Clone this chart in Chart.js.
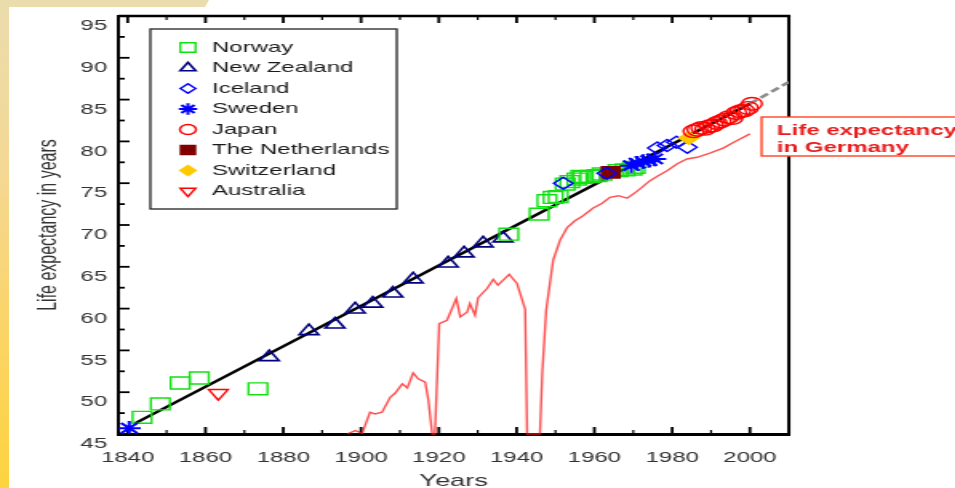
<!DOCTYPE html>
<html lang="en">
<head>
  <meta charset="UTF-8" />
  <title>Record life expectancy</title>
  <script src="https://cdn.jsdelivr.net/npm/chart.js"></script>
  <style>
    html, body {
      margin: 0;
      padding: 0;
      width: 955px;
      height: 488px;
      overflow: hidden;
      background: #fff;
    }

    #topBand {
      position: absolute;
      left: 0;
      top: 0;
      width: 209px;
      height: 7px;
      background: #ebdcad;
      clip-path: polygon(0 0, 209px 0, 205px 7px, 0 7px);
    }

    #leftStrip {
      position: absolute;
      left: 0;
      top: 0;
      width: 9px;
      height: 488px;
      background: linear-gradient(to bottom, #ebdcad 0%, #f4d894 35%, #fbd464 70%, #fdd33e 100%);
    }

    /* the original picture was stretched sideways, so draw narrow and stretch */
    #wrap {
      position: absolute;
      left: 0;
      top: 0;
      width: 597px;
      height: 488px;
      transform: scaleX(1.6);
      transform-origin: 0 0;
    }
  </style>
</head>
<body>
  <div id="topBand"></div>
  <div id="leftStrip"></div>
  <div id="wrap">
    <canvas id="lifeChart" width="597" height="488" style="width:597px;height:488px"></canvas>
  </div>

  <script>
    // ---- data ----
    const yearTicks = [1840, 1860, 1880, 1900, 1920, 1940, 1960, 1980, 2000];
    const lifeTicks = [45, 50, 55, 60, 65, 70, 75, 80, 85, 90, 95];

    const norwayYears = [1843.7, 1848.4, 1853.5, 1858.4, 1873.5, 1938, 1945.8, 1947.8, 1949.4, 1950.7, 1952.5, 1953.7, 1955.5, 1956.5, 1957.1, 1958.9, 1960.7, 1962, 1966.1, 1967.9, 1969.7, 1970.5];
    const norwayLife = [47.0, 48.6, 51.1, 51.7, 50.4, 68.9, 71.3, 72.9, 73.3, 73.4, 74.9, 75.2, 75.5, 75.8, 75.7, 75.8, 75.9, 76.1, 76.5, 76.6, 76.7, 76.9];

    const nzYears = [1876.4, 1886.6, 1893.3, 1898.5, 1903, 1908.2, 1913.4, 1922.4, 1926.5, 1931.4, 1936.5];
    const nzLife = [54.2, 57.3, 58.1, 59.9, 60.6, 61.8, 63.5, 65.4, 66.6, 67.8, 68.4];

    const icelandYears = [1952, 1963.2, 1976.2, 1978.7, 1981.1, 1983.9];
    const icelandLife = [75.0, 76.2, 79.2, 79.5, 79.9, 79.3];

    const swedenYears = [1840.4, 1969.5, 1971, 1972.5, 1974, 1975.5];
    const swedenLife = [45.7, 77.1, 77.4, 77.6, 77.7, 77.9];

    const japanYears = [1985.5, 1986.5, 1987.5, 1988.5, 1989.5, 1990.5, 1991.5, 1992.5, 1993.5, 1994.5, 1995.5, 1996.5, 1997.5, 1998.5, 1999.5, 2000.5];
    const japanLife = [81.2, 81.4, 81.6, 81.5, 81.8, 81.9, 82.2, 82.4, 82.6, 82.9, 82.8, 83.4, 83.6, 83.7, 84.0, 84.5];

    const netherlandsYears = [1964.2];
    const netherlandsLife = [76.3];

    const switzerlandYears = [1984.3];
    const switzerlandLife = [80.4];

    const australiaYears = [1863.3];
    const australiaLife = [49.9];

    const trendYears = [1842, 2000];
    const trendLife = [46.3, 84.5];

    const projYears = [2000, 2010];
    const projLife = [84.5, 87.1];

    const germanyYears = [1896.4, 1898.5, 1900.3, 1902.3, 1903.6, 1905.4, 1907.5, 1908.8, 1910.6, 1911.9,
      1913.4, 1914.7, 1916.5, 1917.3, 1918.3, 1919.0, 1920.1, 1922.1, 1924.5, 1925.5,
      1927.3, 1928.0, 1929.3, 1930.1, 1932.4, 1934.0, 1935.2, 1938.1, 1940.1, 1942.2,
      1942.7, 1946.0, 1946.6, 1947.6, 1949.4, 1951.2, 1953.0, 1955.0, 1957.1, 1959.6,
      1962.0, 1964.0, 1966.2, 1968.4, 1970.0, 1972.2, 1974.3, 1976.4, 1978.7, 1981.2,
      1983.8, 1986.4, 1989.7, 1993.1, 1996.7, 2000.0];
    const germanyLife = [45, 45.4, 45.1, 47.6, 47.4, 47.6, 49.4, 49.9, 51.0, 50.5,
      52.3, 51.6, 51.2, 49.1, 45, 45, 58.2, 58.6, 61.2, 59.0,
      59.6, 60.6, 59.2, 61.3, 62.4, 63.5, 62.8, 64.1, 63.0, 59.9,
      45, 45, 52.3, 59.8, 65.8, 68.2, 69.7, 70.5, 71.1, 72.0,
      72.6, 73.3, 73.5, 73.2, 73.7, 74.5, 75.3, 75.9, 76.5, 77.3,
      77.9, 78.1, 78.6, 79.2, 80.1, 80.9];

    const FONT = "'Liberation Sans', Arial, sans-serif";
    Chart.defaults.font.family = FONT;

    const pts = (xs, ys) => xs.map((x, i) => ({ x: x, y: ys[i] }));

    function markers(label, xs, ys, style, color, fill, radius, order, rot, bw) {
      return {
        label: label,
        data: pts(xs, ys),
        showLine: false,
        pointStyle: style,
        pointRadius: radius,
        pointRotation: rot || 0,
        borderColor: color,
        backgroundColor: fill,
        pointBorderWidth: bw || 1.4,
        borderWidth: bw || 1.4,
        order: order
      };
    }

    // inward tick marks plus top and right frame
    const frameTicks = {
      id: 'frameTicks',
      beforeDatasetsDraw(chart) {
        const { ctx, chartArea: a, scales: { x, y } } = chart;
        ctx.save();
        ctx.strokeStyle = '#000';
        ctx.lineWidth = 2.5;
        ctx.beginPath();
        ctx.moveTo(a.left, a.top);
        ctx.lineTo(a.right + 1, a.top);
        ctx.stroke();
        ctx.lineWidth = 2;
        ctx.beginPath();
        ctx.moveTo(a.right, a.top);
        ctx.lineTo(a.right, a.bottom + 1.5);
        ctx.stroke();

        yearTicks.forEach(v => {
          [v, v + 10].forEach((t, k) => {
            if (t >= x.max) return;
            const px = x.getPixelForValue(t);
            const len = k === 0 ? 7 : 4;
            ctx.lineWidth = k === 0 ? 1.8 : 1.2;
            ctx.beginPath();
            ctx.moveTo(px, a.bottom);
            ctx.lineTo(px, a.bottom - len);
            ctx.moveTo(px, a.top);
            ctx.lineTo(px, a.top + len);
            ctx.stroke();
          });
        });

        lifeTicks.forEach(v => {
          [v, v + 2.5].forEach((t, k) => {
            if (t <= y.min || t > y.max) return;
            const py = y.getPixelForValue(t);
            const len = k === 0 ? 7 : 4;
            ctx.lineWidth = 1.8;
            ctx.beginPath();
            ctx.moveTo(a.left, py);
            ctx.lineTo(a.left + len, py);
            ctx.stroke();
          });
        });
        ctx.restore();
      }
    };

    // boxed legend inside the plot, and the Germany note
    const boxLegend = {
      id: 'boxLegend',
      afterDraw(chart) {
        const ctx = chart.ctx;
        ctx.save();
        ctx.lineWidth = 1.3;
        ctx.strokeStyle = '#222';
        ctx.strokeRect(94, 29, 154, 180);
        ctx.font = '15px ' + FONT;
        ctx.textBaseline = 'middle';
        chart.data.datasets.forEach((ds, i) => {
          if (ds.showLine) return;
          const yy = 47.5 + i * 20.5;
          ctx.strokeStyle = ds.borderColor;
          ctx.fillStyle = ds.backgroundColor;
          ctx.lineWidth = ds.pointBorderWidth;
          Chart.helpers.drawPoint(ctx, {
            pointStyle: ds.pointStyle,
            rotation: ds.pointRotation,
            radius: ds.pointRadius * 0.8,
            borderWidth: ds.pointBorderWidth
          }, 117.5, yy);
          ctx.fillStyle = '#1a1a1a';
          ctx.fillText(ds.label, 132.5, yy);
        });

        // note box, runs off the right edge like the original
        ctx.fillStyle = '#fff';
        ctx.fillRect(476, 117, 200, 39);
        ctx.strokeStyle = '#ff4422';
        ctx.lineWidth = 1.4;
        ctx.strokeRect(476, 117, 200, 39);
        ctx.fillStyle = '#e81c1c';
        ctx.font = 'bold 15px ' + FONT;
        ctx.textBaseline = 'alphabetic';
        ctx.fillText('Life expectancy', 485.6, 135);
        ctx.fillText('in Germany', 485.6, 152);
        ctx.restore();
      }
    };

    const datasets = [
      markers('Norway', norwayYears, norwayLife, 'rect', '#12e012', 'transparent', 8.4, 6),
      markers('New Zealand', nzYears, nzLife, 'triangle', '#000080', 'transparent', 7, 7, 0, 1.6),
      markers('Iceland', icelandYears, icelandLife, 'rectRot', '#0000ff', 'transparent', 6, 3),
      markers('Sweden', swedenYears, swedenLife, 'star', '#0000ff', 'transparent', 7.2, 5, 0, 2),
      markers('Japan', japanYears, japanLife, 'circle', '#ff0000', 'transparent', 6.3, 1),
      markers('The Netherlands', netherlandsYears, netherlandsLife, 'rect', '#800000', '#800000', 8, 4),
      markers('Switzerland', switzerlandYears, switzerlandLife, 'rectRot', '#ffc800', '#ffc800', 6.2, 2),
      markers('Australia', australiaYears, australiaLife, 'triangle', '#ff0000', 'transparent', 7, 8, 180),
      {
        label: 'trend',
        data: pts(trendYears, trendLife),
        showLine: true,
        pointRadius: 0,
        borderColor: '#000',
        borderWidth: 2.5,
        order: 9
      },
      {
        label: 'projection',
        data: pts(projYears, projLife),
        showLine: true,
        pointRadius: 0,
        borderColor: '#8c8c8c',
        borderWidth: 2.5,
        borderDash: [6, 3],
        order: 10
      },
      {
        label: 'Germany',
        data: pts(germanyYears, germanyLife),
        showLine: true,
        pointRadius: 0,
        borderColor: 'rgba(255, 20, 20, 0.75)',
        borderWidth: 1.4,
        tension: 0,
        clip: 4,
        order: 11
      }
    ];

    new Chart(document.getElementById('lifeChart'), {
      type: 'scatter',
      data: { datasets: datasets },
      plugins: [frameTicks, boxLegend],
      options: {
        responsive: false,
        animation: false,
        events: [],
        layout: { padding: { left: 0, top: 15, right: 103.95, bottom: 0 } },
        plugins: {
          legend: { display: false },
          tooltip: { enabled: false }
        },
        scales: {
          x: {
            type: 'linear',
            min: 1837.6,
            max: 2010,
            afterBuildTicks: s => { s.ticks = yearTicks.map(v => ({ value: v })); },
            afterFit: s => { s.height = 54; },
            grid: { display: false, drawTicks: false },
            border: { display: true, color: '#000', width: 3 },
            ticks: {
              color: '#333',
              font: { size: 15 },
              padding: 15,
              maxRotation: 0,
              autoSkip: false,
              callback: v => String(v)
            },
            title: {
              display: true,
              text: 'Years',
              color: '#333',
              font: { size: 17 },
              padding: { top: 0, bottom: -4 }
            }
          },
          y: {
            type: 'linear',
            min: 45,
            max: 95,
            afterBuildTicks: s => { s.ticks = lifeTicks.map(v => ({ value: v })); },
            afterFit: s => { s.width = 74; },
            grid: { display: false, drawTicks: false },
            border: { display: true, color: '#000', width: 2 },
            ticks: {
              color: '#333',
              font: { size: 15 },
              padding: 7,
              labelOffset: 10,
              callback: v => String(v)
            },
            title: {
              display: true,
              text: 'Life expectancy in years',
              color: '#333',
              font: { size: 16 },
              padding: { top: 21, bottom: 0 }
            }
          }
        }
      }
    });
  </script>
</body>
</html>
